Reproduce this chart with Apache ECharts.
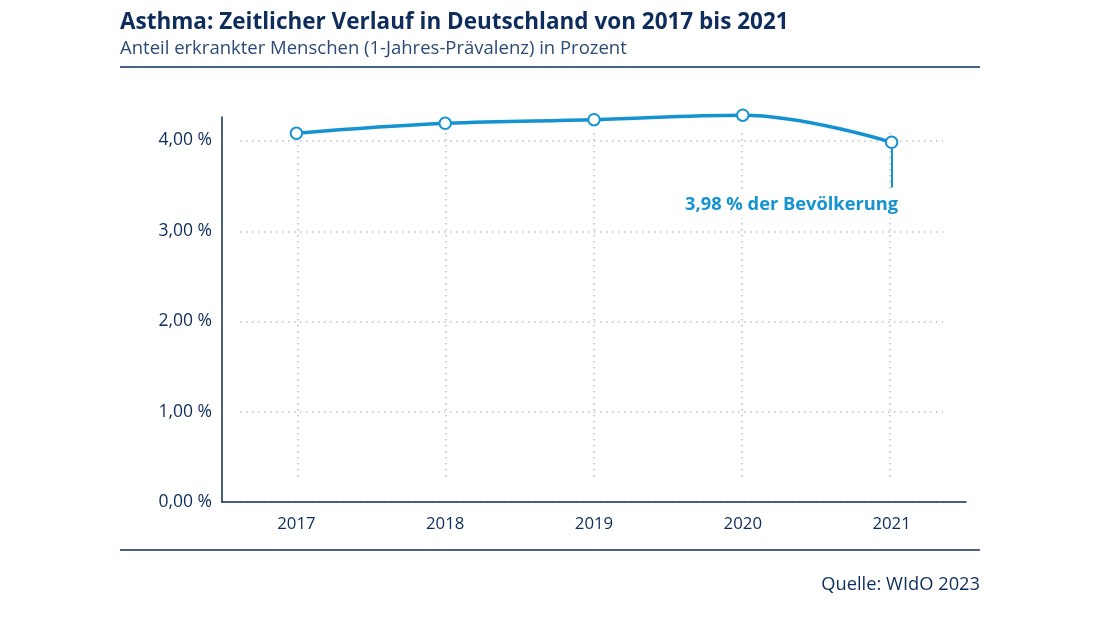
<!DOCTYPE html>
<html><head><meta charset="utf-8">
<script src="https://cdn.jsdelivr.net/npm/echarts@6/dist/echarts.min.js"></script>
<style>html,body{margin:0;padding:0;background:#fff}#c{width:1100px;height:619px}</style>
</head><body><div id="c"></div>
<script>
const years = ['2017','2018','2019','2020','2021'];
const prevalence = [4.08, 4.19, 4.23, 4.28, 3.98];
const yTicks = [0, 1, 2, 3, 4];
const titleText = 'Asthma: Zeitlicher Verlauf in Deutschland von 2017 bis 2021';
const subtitleText = 'Anteil erkrankter Menschen (1-Jahres-Prävalenz) in Prozent';
const sourceText = 'Quelle: WIdO 2023';
const annotText = '3,98 % der Bevölkerung';

const NAVY = '#0e2c5c';
const BLUE = '#1593d1';
const FONT = 'Open Sans';
const fmtPct = v => v.toFixed(2).replace('.', ',') + ' %';

const chart = echarts.init(document.getElementById('c'), null, {renderer:'canvas'});
const last = prevalence.length - 1;
chart.setOption({
  animation:false,
  backgroundColor:'#fff',
  textStyle:{fontFamily:FONT},
  title:[
    {text:titleText, left:115, top:6, textStyle:{fontFamily:FONT, fontWeight:'bold', fontSize:22.5, color:NAVY}},
    {text:subtitleText, left:115, top:34, textStyle:{fontFamily:FONT, fontWeight:'normal', fontSize:18.5, color:'#2b4a78'}},
    {text:sourceText, right:115, top:571, textStyle:{fontFamily:FONT, fontWeight:'normal', fontSize:18.3, color:NAVY}}
  ],
  graphic:[
    {type:'line', shape:{x1:120,y1:67,x2:980,y2:67}, style:{stroke:NAVY, lineWidth:1.5}},
    {type:'line', shape:{x1:120,y1:550,x2:980,y2:550}, style:{stroke:NAVY, lineWidth:1.5}}
  ],
  grid:[
    {left:222, right:134, top:117, bottom:117},
    {left:240, right:157, top:141, bottom:117},
    {left:298, right:210, top:133, bottom:141}
  ],
  xAxis:[
    {type:'category', gridIndex:0, data:years, boundaryGap:true, z:5,
     axisLine:{lineStyle:{color:NAVY, width:1.5}}, axisTick:{show:false},
     axisLabel:{color:NAVY, fontSize:16.8, margin:14, fontFamily:FONT}, splitLine:{show:false}},
    {type:'category', gridIndex:1, data:years, show:false},
    {type:'category', gridIndex:2, data:years, boundaryGap:false,
     axisLine:{show:false}, axisTick:{show:false}, axisLabel:{show:false},
     splitLine:{show:true, lineStyle:{color:'#bfbfbf', type:[1.5,4.5], width:1.5}}}
  ],
  yAxis:[
    {type:'value', gridIndex:0, min:0, max:4.26, interval:1, z:5,
     axisLine:{show:true, lineStyle:{color:NAVY, width:1.5}}, axisTick:{show:false},
     splitLine:{show:false},
     axisLabel:{color:NAVY, fontSize:17.5, margin:10, fontFamily:FONT,
       formatter:v => yTicks.includes(v) ? fmtPct(v) : ''}},
    {type:'value', gridIndex:1, min:0, max:4, interval:1,
     axisLine:{show:false}, axisTick:{show:false}, axisLabel:{show:false},
     splitLine:{show:true, lineStyle:{color:'#bfbfbf', type:[1.5,4.5], width:1.5}}},
    {type:'value', gridIndex:2, min:0, max:1, show:false, splitLine:{show:false}}
  ],
  series:[
    {type:'line', xAxisIndex:0, yAxisIndex:0, clip:false, data:prevalence.map((v,i)=>({
        value:v,
        label: i===last ? {show:true, position:'bottom', distance:0, offset:[-100,43],
          formatter:annotText, color:BLUE, fontWeight:'bold', fontSize:18.3, fontFamily:FONT,
          backgroundColor:'#fff', padding:[4,2,4,2]} : {show:false}
      })),
     smooth:0.4, symbol:'emptyCircle', symbolSize:11.5, z:10,
     lineStyle:{color:BLUE, width:3.5},
     itemStyle:{color:BLUE, borderColor:BLUE, borderWidth:2.8},
     markLine:{silent:true, symbol:'none', label:{show:false},
       lineStyle:{color:BLUE, width:2, type:'solid'},
       data:[[{coord:[years[last], prevalence[last]-0.07]},{coord:[years[last], prevalence[last]-0.5]}]]}
    }
  ]
});
</script></body></html>
